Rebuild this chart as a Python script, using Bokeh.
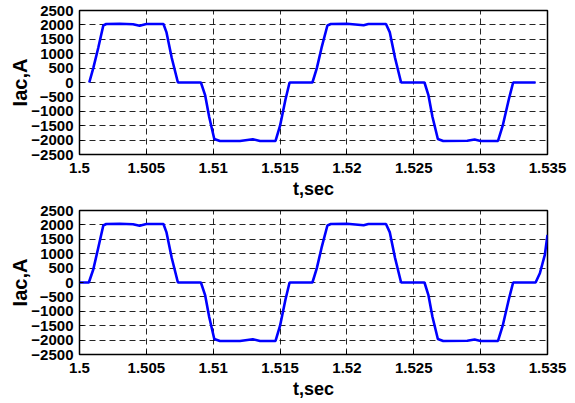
from bokeh.plotting import figure
from bokeh.layouts import column
from bokeh.models import Range1d, FixedTicker
from bokeh.embed import file_html
from bokeh.resources import INLINE

# ---- data ----
t_top = [1.50073, 1.50103, 1.50140, 1.50178, 1.50200, 1.50300, 1.50400, 1.50450, 1.50500,
         1.50628, 1.50650, 1.50690, 1.50736, 1.50908, 1.50940, 1.50970, 1.51008, 1.51050,
         1.51200, 1.51296, 1.51350, 1.51466, 1.51500, 1.51540, 1.51571, 1.51742, 1.51775,
         1.51810, 1.51854, 1.51880, 1.52000, 1.52125, 1.52160, 1.52292, 1.52320, 1.52360,
         1.52405, 1.52580, 1.52610, 1.52640, 1.52680, 1.52720, 1.52900, 1.52955, 1.53000,
         1.53130, 1.53165, 1.53210, 1.53243, 1.53411]
i_top = [0, 500, 1200, 1980, 2030, 2040, 2020, 1970, 2030,
         2030, 1750, 850, 0, 0, -450, -1200, -1960, -2030,
         -2030, -1970, -2030, -2030, -1500, -600, 0, 0, 500,
         1200, 1980, 2030, 2040, 1990, 2030, 2030, 1750, 850,
         0, 0, -450, -1200, -1960, -2030, -2020, -1980, -2030,
         -2030, -1500, -600, 0, 0]

t_bot = [1.50000, 1.50070, 1.50103, 1.50140, 1.50178, 1.50200, 1.50300, 1.50400, 1.50450,
         1.50500, 1.50628, 1.50650, 1.50690, 1.50736, 1.50908, 1.50940, 1.50970, 1.51008,
         1.51050, 1.51200, 1.51296, 1.51350, 1.51466, 1.51500, 1.51540, 1.51571, 1.51742,
         1.51775, 1.51810, 1.51854, 1.51880, 1.52000, 1.52125, 1.52160, 1.52292, 1.52320,
         1.52360, 1.52405, 1.52580, 1.52610, 1.52640, 1.52680, 1.52720, 1.52900, 1.52955,
         1.53000, 1.53130, 1.53165, 1.53210, 1.53243, 1.53411, 1.53443, 1.53480, 1.53500]
i_bot = [0, 0, 450, 1200, 1980, 2030, 2040, 2020, 1970,
         2030, 2030, 1750, 850, 0, 0, -450, -1200, -1960,
         -2030, -2030, -1970, -2030, -2030, -1500, -600, 0, 0,
         500, 1200, 1980, 2030, 2040, 1990, 2030, 2030, 1750,
         850, 0, 0, -450, -1200, -1960, -2030, -2020, -1980,
         -2030, -2030, -1500, -600, 0, 0, 320, 960, 1650]

x_ticks = [1.5, 1.505, 1.51, 1.515, 1.52, 1.525, 1.53, 1.535]
x_labels = ["1.5", "1.505", "1.51", "1.515", "1.52", "1.525", "1.53", "1.535"]
y_ticks = [-2500, -2000, -1500, -1000, -500, 0, 500, 1000, 1500, 2000, 2500]

FONT = "Liberation Sans"


def make(t, i, top_border, bottom_border):
    p = figure(frame_width=468, frame_height=144, output_backend="svg", toolbar_location=None,
               x_range=Range1d(1.5, 1.535), y_range=Range1d(-2500, 2500),
               min_border_left=79, min_border_right=21, min_border_top=top_border,
               min_border_bottom=bottom_border, background_fill_color="white",
               border_fill_color="white")
    p.line(t, i, line_color="#0000FF", line_width=2.6)
    p.outline_line_color = "black"
    p.outline_line_width = 1.5
    p.outline_line_alpha = 1
    p.xaxis.ticker = FixedTicker(ticks=x_ticks)
    p.xaxis.major_label_overrides = {tk: lb for tk, lb in zip(x_ticks, x_labels)}
    p.yaxis.ticker = FixedTicker(ticks=y_ticks)
    for ax in (p.xaxis[0], p.yaxis[0]):
        ax.axis_line_color = None
        ax.major_tick_out = 0
        ax.major_tick_in = 4
        ax.major_tick_line_color = "black"
        ax.major_tick_line_width = 1
        ax.minor_tick_out = 0
        ax.minor_tick_in = 0
        ax.major_label_text_font = FONT
        ax.major_label_text_font_style = "bold"
        ax.major_label_text_font_size = "15px"
        ax.major_label_text_color = "black"
        ax.axis_label_text_font = FONT
        ax.axis_label_text_font_style = "bold"
        ax.axis_label_text_color = "black"
    p.xaxis.major_label_standoff = 8
    p.yaxis.major_label_standoff = 6
    p.xaxis.axis_label = "t,sec"
    p.xaxis.axis_label_text_font_size = "18px"
    p.xaxis.axis_label_standoff = 3
    p.yaxis.axis_label = "Iac,A"
    p.yaxis.axis_label_text_font_size = "20px"
    p.yaxis.axis_label_standoff = -3
    for g in (p.xgrid[0], p.ygrid[0]):
        g.grid_line_color = "black"
        g.grid_line_dash = "6 4"
        g.grid_line_width = 1
        g.grid_line_alpha = 0.85
    return p


p1 = make(t_top, i_top, 10, 46)
p2 = make(t_bot, i_bot, 9, 46)
p = column(p1, p2, spacing=0)

open("out.html", "w").write(file_html(p, INLINE))
